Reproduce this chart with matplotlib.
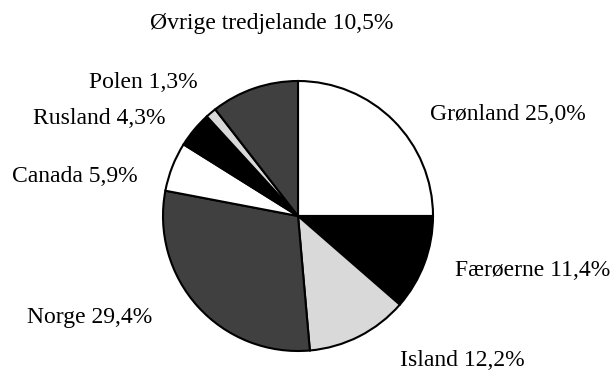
import matplotlib
matplotlib.use("Agg")
from matplotlib import pyplot as plt

# share of imports by country, percent
countries = ["Grønland", "Færøerne", "Island", "Norge", "Canada", "Rusland", "Polen", "Øvrige tredjelande"]
shares = [25.0, 11.4, 12.2, 29.4, 5.9, 4.3, 1.3, 10.5]

colors = ["white", "black", "#d9d9d9", "#404040", "white", "black", "#d9d9d9", "#404040"]

# label anchor points in pixel space (left x, centre y from top)
label_pos = [(430, 115), (455, 270), (400, 360), (27, 318), (12, 177), (33, 118), (89, 82), (150, 23)]

W, H = 616, 376
plt.rcParams["font.family"] = ["Liberation Serif", "DejaVu Serif"]

fig = plt.figure(figsize=(W / 100, H / 100), dpi=100)
ax = fig.add_axes([0, 0, 1, 1])

ax.pie(shares, colors=colors, startangle=90, counterclock=False,
       center=(298, H - 216), radius=135, frame=True,
       wedgeprops=dict(edgecolor="black", linewidth=1.5))
ax.set_xlim(0, W)
ax.set_ylim(0, H)
ax.set_aspect("equal")
ax.axis("off")

for name, val, (x, y) in zip(countries, shares, label_pos):
    txt = f"{name} {val:.1f}%".replace(".", ",")
    ax.text(x, H - y, txt, fontsize=17, ha="left", va="center")

fig.savefig("out.png", dpi=100)
